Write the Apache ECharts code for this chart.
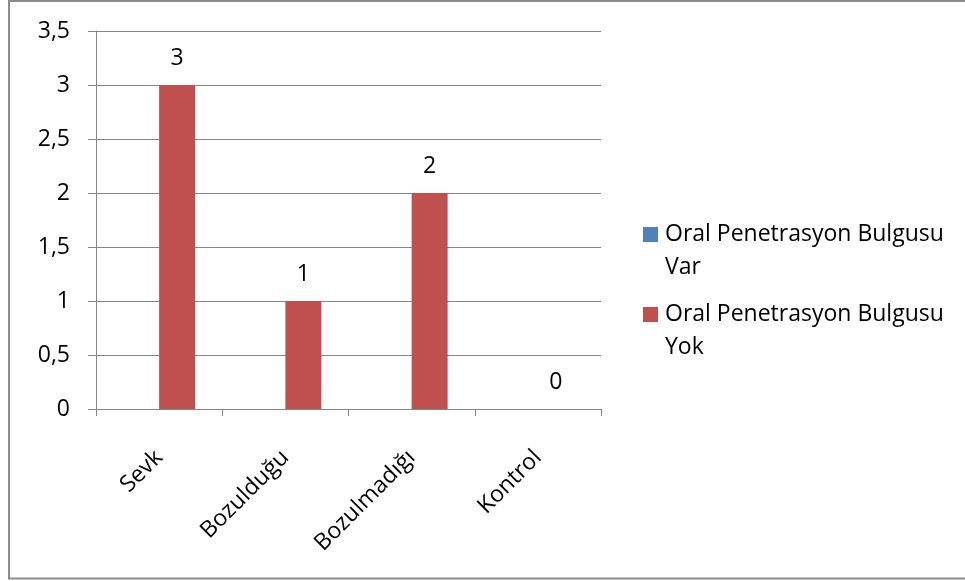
<!DOCTYPE html>
<html>
<head>
<meta charset="utf-8">
<script src="https://cdn.jsdelivr.net/npm/echarts@6/dist/echarts.min.js"></script>
<style>
  html, body { margin: 0; padding: 0; background: #ffffff; }
  #chart { width: 965px; height: 581px; }
</style>
</head>
<body>
<div id="chart"></div>
<script>
// Categories along the x axis
var categories = ['Sevk', 'Bozulduğu', 'Bozulmadığı', 'Kontrol'];
// Series names and values (the "Var" series has no entries)
var seriesNames = ['Oral Penetrasyon Bulgusu Var', 'Oral Penetrasyon Bulgusu Yok'];
var varValues = [null, null, null, null];
var yokValues = [3, 1, 2, 0];
// Value axis range
var yMin = 0, yMax = 3.5, yStep = 0.5;

var colors = ['#4f81bd', '#c0504d'];
var FONT = '"Open Sans"';
var FS = 23;

// Legend drawn as two-line entries with the swatch beside the first line
function legendItem(i, top) {
  var words = seriesNames[i].split(' ');
  var last = words.pop();
  return [
    { type: 'rect', left: 643, top: top, shape: { width: 15, height: 15 },
      style: { fill: colors[i] } },
    { type: 'text', left: 665, top: top - 9.5,
      style: { text: words.join(' ') + '\n' + last, font: FS + 'px ' + FONT,
               fill: '#000', lineHeight: 33 } }
  ];
}

var chart = echarts.init(document.getElementById('chart'), null, { renderer: 'canvas' });
chart.setOption({
  backgroundColor: '#ffffff',
  animation: false,
  grid: { left: 96, right: 364, top: 31, bottom: 172 },
  xAxis: {
    type: 'category',
    data: categories,
    boundaryGap: true,
    axisLine: { lineStyle: { color: '#868686', width: 1 } },
    axisTick: { show: true, length: 7, lineStyle: { color: '#868686' } },
    axisLabel: { rotate: 45, margin: 45, color: '#000', fontFamily: FONT, fontSize: FS }
  },
  yAxis: {
    type: 'value',
    min: yMin, max: yMax, interval: yStep,
    axisLine: { show: true, lineStyle: { color: '#868686', width: 1 } },
    axisTick: { show: true, length: 8, lineStyle: { color: '#868686' } },
    splitLine: { lineStyle: { color: '#868686', width: 1 } },
    axisLabel: {
      margin: 26, color: '#000', fontFamily: FONT, fontSize: FS,
      formatter: function (v) { return String(v).replace('.', ','); }
    }
  },
  series: [
    { name: seriesNames[0], type: 'bar', data: varValues, barWidth: 36, barGap: '0%',
      itemStyle: { color: colors[0] } },
    { name: seriesNames[1], type: 'bar', data: yokValues, barWidth: 36, barGap: '0%',
      itemStyle: { color: colors[1] },
      label: { show: true, position: 'top', distance: 15, color: '#000',
               fontFamily: FONT, fontSize: FS } }
  ],
  graphic: [
    { type: 'rect', silent: true, shape: { x: 9, y: 1, width: 1000, height: 577.5 },
      style: { fill: 'none', stroke: '#8c8c8c', lineWidth: 2 } }
  ].concat(legendItem(0, 227), legendItem(1, 307))
});
</script>
</body>
</html>
